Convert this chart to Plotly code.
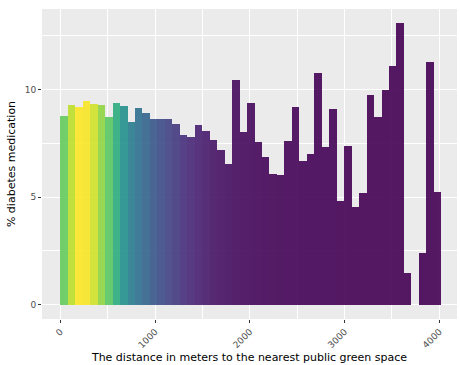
import plotly.graph_objects as go

# Distance bins (bin midpoints, metres) to the nearest public green space
distance_mid = [39.4, 118.2, 197.1, 275.9, 354.7, 433.5, 512.3, 591.2, 670.0, 748.8,
                827.6, 906.4, 985.3, 1064.1, 1142.9, 1221.7, 1300.5, 1379.4, 1458.2, 1537.0,
                1615.8, 1694.6, 1773.5, 1852.3, 1931.1, 2009.9, 2088.7, 2167.6, 2246.4, 2325.2,
                2404.0, 2482.8, 2561.7, 2640.5, 2719.3, 2798.1, 2876.9, 2955.8, 3034.6, 3113.4,
                3192.2, 3271.0, 3349.9, 3428.7, 3507.5, 3586.3, 3665.1, 3744.0, 3822.8, 3901.6,
                3980.4]
bin_width = 78.82

# % of people on diabetes medication per distance bin
pct_diabetes = [8.76, 9.30, 9.18, 9.47, 9.33, 9.27, 8.74, 9.38, 9.23, 8.48,
                9.13, 8.92, 8.65, 8.65, 8.62, 8.39, 7.88, 7.81, 8.34, 8.09,
                7.66, 7.20, 6.53, 10.44, 8.05, 9.37, 7.57, 6.88, 6.09, 6.05,
                7.60, 9.21, 6.67, 7.02, 10.78, 7.32, 9.10, 4.84, 7.40, 4.54,
                5.18, 9.74, 8.74, 10.00, 11.10, 13.10, 1.49, None, 2.40, 11.27,
                5.26]

# Number of neighbourhoods in each bin (drives the fill colour)
n_areas = [760, 900, 1000, 990, 930, 830, 740, 620, 500, 420,
           370, 320, 270, 230, 195, 165, 135, 110, 90, 72,
           58, 46, 37, 30, 24, 20, 16, 13, 11, 9,
           7, 6, 5, 4, 4, 3, 3, 2, 2, 2,
           2, 2, 2, 1, 1, 1, 1, None, 1, 1,
           1]

x_ticks = [0, 1000, 2000, 3000, 4000]
y_ticks = [0, 5, 10]

fill_vals = [c if c is not None else 1 for c in n_areas]

fig = go.Figure(go.Bar(
    x=distance_mid,
    y=pct_diabetes,
    width=bin_width,
    marker=dict(
        color=fill_vals,
        colorscale="Viridis",
        cmin=min(fill_vals),
        cmax=max(fill_vals),
        showscale=False,
        line=dict(width=0),
        opacity=0.9,
    ),
    hoverinfo="x+y",
))

axis_font = dict(family="DejaVu Sans", size=9, color="#4D4D4D")
title_font = dict(family="DejaVu Sans", size=11, color="#000000")

fig.update_layout(
    width=460, height=365,
    margin=dict(l=42, r=3, t=9, b=46),
    paper_bgcolor="white",
    plot_bgcolor="#EBEBEB",
    bargap=0,
    showlegend=False,
    font=dict(family="DejaVu Sans"),
    xaxis=dict(
        range=[-193, 4186],
        tickvals=x_ticks,
        ticktext=[str(v) for v in x_ticks],
        tickangle=-45,
        tickfont=axis_font,
        ticks="outside", ticklen=3, tickcolor="#333333", tickwidth=1,
        showgrid=True, gridcolor="white", gridwidth=1.1,
        minor=dict(dtick=1000, tick0=500, showgrid=True, gridcolor="white", gridwidth=0.5, ticks=""),
        zeroline=False, showline=False,
        title=dict(text="The distance in meters to the nearest public green space",
                   font=title_font, standoff=4),
    ),
    yaxis=dict(
        range=[-0.665, 13.755],
        tickvals=y_ticks,
        ticktext=[str(v) for v in y_ticks],
        tickfont=axis_font,
        ticks="outside", ticklen=3, tickcolor="#333333", tickwidth=1,
        showgrid=True, gridcolor="white", gridwidth=1.1,
        minor=dict(dtick=5, tick0=2.5, showgrid=True, gridcolor="white", gridwidth=0.5, ticks=""),
        zeroline=False, showline=False,
        title=dict(text="% diabetes medication", font=title_font, standoff=6),
    ),
)

fig.write_html("out.html")
